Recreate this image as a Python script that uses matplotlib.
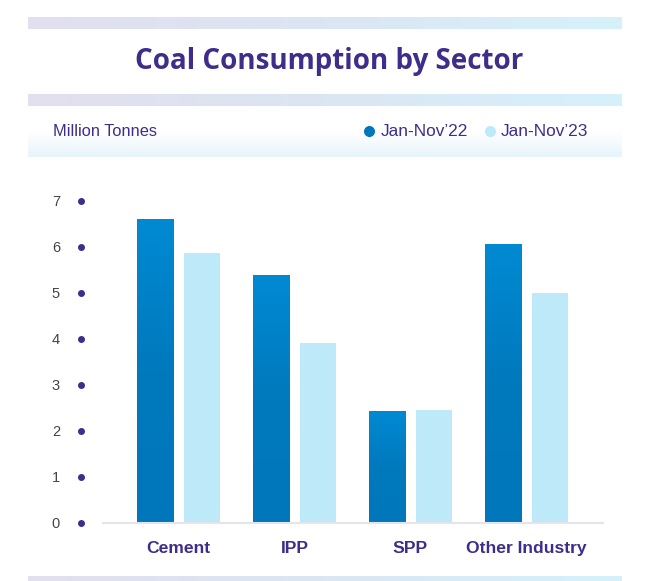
import numpy as np
import matplotlib
matplotlib.use("Agg")
from matplotlib import pyplot as plt
from matplotlib.colors import LinearSegmentedColormap

sectors = ["Cement", "IPP", "SPP", "Other Industry"]
jan_nov_22 = [6.6, 5.38, 2.43, 6.06]
jan_nov_23 = [5.88, 3.92, 2.45, 5.0]
yticks = [0, 1, 2, 3, 4, 5, 6, 7]
series_names = ["Jan-Nov\u201922", "Jan-Nov\u201923"]

PURPLE = "#3f2d8c"
LIGHT = "#bde9f8"
W, H = 656, 581

fig = plt.figure(figsize=(W / 100, H / 100), dpi=100)

# background decorations, drawn in pixel coordinates
bg = fig.add_axes([0, 0, 1, 1])
bg.set_xlim(0, W)
bg.set_ylim(H, 0)
bg.axis("off")

band = LinearSegmentedColormap.from_list("band", ["#e3dfef", "#dbe6f2", "#d6f1fb"])
hgrad = np.linspace(0, 1, 256).reshape(1, -1)
for y0, y1 in [(17, 29), (94, 106), (576, 581)]:
    bg.imshow(hgrad, cmap=band, extent=[28, 622, y1, y0], aspect="auto", zorder=1)

head = LinearSegmentedColormap.from_list("head", ["#ffffff", "#ffffff", "#e6f4fb"])
vgrad = np.linspace(0, 1, 256).reshape(-1, 1)
bg.imshow(vgrad, cmap=head, extent=[28, 622, 157, 106], aspect="auto", zorder=1)

bg.text(W / 2 + 1, 61, "Coal Consumption by Sector", ha="center", va="center",
        fontsize=20, fontweight="bold", color=PURPLE, family="Open Sans")
bg.text(53, 131, "Million Tonnes", ha="left", va="center",
        fontsize=11.8, color=PURPLE, family="Liberation Sans")
bg.scatter([369], [131], s=48, color="#0077ba", zorder=3)
bg.text(381, 131, series_names[0], ha="left", va="center",
        fontsize=12.4, color=PURPLE, family="Liberation Sans")
bg.scatter([490], [131], s=48, color=LIGHT, zorder=3)
bg.text(501, 131, series_names[1], ha="left", va="center",
        fontsize=12.4, color=PURPLE, family="Liberation Sans")

# chart area
ax = fig.add_axes([103 / W, (H - 523) / H, 500 / W, 322 / H])
ax.patch.set_alpha(0)
x = np.arange(len(sectors))
bw = 0.315
off = 0.203

bar_cmap = LinearSegmentedColormap.from_list("bar", ["#0077ba", "#0079bd", "#008ad2"])
for xi, v in zip(x, jan_nov_22):
    ax.imshow(np.linspace(0, 1, 256).reshape(-1, 1), cmap=bar_cmap, origin="lower",
              extent=[xi - off - bw / 2, xi - off + bw / 2, 0, v], aspect="auto", zorder=2)
ax.bar(x + off, jan_nov_23, width=bw, color=LIGHT, zorder=2)
ax.set_xlim(-0.651, 3.66)
ax.set_ylim(0, 7)

for s in ["top", "right", "left"]:
    ax.spines[s].set_visible(False)
ax.spines["bottom"].set_color("#e4e4ea")
ax.spines["bottom"].set_linewidth(1.5)

ax.set_xticks(x)
ax.set_xticklabels(sectors, fontsize=12.6, fontweight="bold", color=PURPLE,
                   family="Liberation Sans")
ax.tick_params(axis="x", length=0, pad=13)

ax.set_yticks(yticks)
ax.set_yticklabels([str(t) for t in yticks], fontsize=10.5, color="#444444",
                   family="Liberation Sans")
ax.tick_params(axis="y", length=0, pad=31)
ax.scatter(np.full(len(yticks), -0.84), yticks, s=16, color=PURPLE, clip_on=False, zorder=3)

fig.savefig("out.png", dpi=100)
